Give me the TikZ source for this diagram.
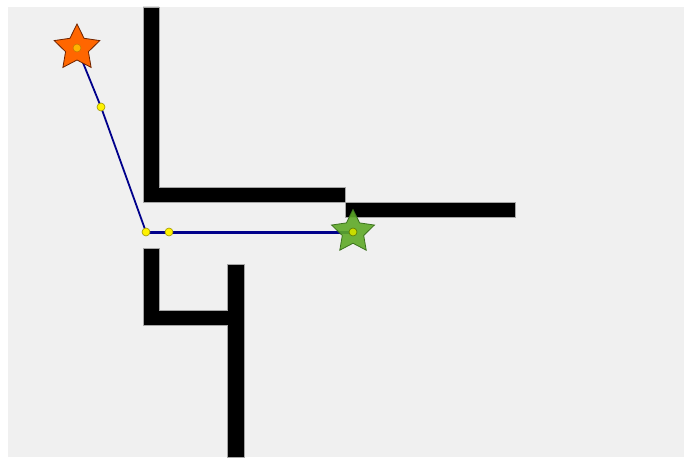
\documentclass[tikz,border=0pt]{standalone}
\usetikzlibrary{shapes.geometric}
\definecolor{floor}{RGB}{240,240,240}
\definecolor{routeblue}{RGB}{0,0,139}
\definecolor{startfill}{RGB}{255,102,0}
\definecolor{startline}{RGB}{110,35,0}
\definecolor{startdot}{RGB}{255,180,0}
\definecolor{startdotline}{RGB}{200,120,0}
\definecolor{goalfill}{RGB}{95,170,40}
\definecolor{goalline}{RGB}{60,115,30}
\definecolor{goaldot}{RGB}{200,220,0}
\definecolor{goaldotline}{RGB}{90,120,0}
\definecolor{dotline}{RGB}{160,150,0}
\begin{document}
\begin{tikzpicture}[x=1pt, y=-1pt,
    wall/.style={fill=black, draw=gray!70, line width=0.6pt},
    route/.style={draw=routeblue, line width=#1},
    startstar/.style={star, star points=5, star point ratio=2.0, minimum size=48pt, inner sep=0pt,
      fill=startfill, draw=startline, line width=0.8pt},
    goalstar/.style={star, star points=5, star point ratio=2.0, minimum size=45pt, inner sep=0pt,
      fill=goalfill, fill opacity=0.9, draw=goalline, line width=0.8pt},
    waypt/.style={circle, inner sep=0pt, minimum size=8pt, fill=yellow, draw=dotline, line width=0.6pt}]
    % Rahmen und Boden
    \useasboundingbox (0,0) rectangle (684,457);
    \fill[floor] (8,7) rectangle (684,457);
    % Waende
    \draw[wall] (143,7) -- (159,7) -- (159,187) -- (345,187) -- (345,202) -- (143,202) -- cycle;
    \draw[wall] (345,202) rectangle (515,217);
    \draw[wall] (143,248) -- (159,248) -- (159,310) -- (227,310) -- (227,264) -- (244,264)
      -- (244,457) -- (227,457) -- (227,325) -- (143,325) -- cycle;
    % Wegpunkte
    \coordinate (p0) at (77,48);
    \coordinate (p1) at (101,107);
    \coordinate (p2) at (146,232);
    \coordinate (p3) at (169,232);
    \coordinate (p4) at (353,232);
    % Route
    \draw[route=1.8pt] (p0) -- (p1) -- (p2);
    \draw[route=3pt] (p2) -- (p3) -- (p4);
    % Start und Ziel
    \node[startstar] (start) at (p0) {};
    \node[goalstar] (goal) at (p4) {};
    \node[waypt, fill=startdot, draw=startdotline] (s) at (start.center) {};
    \node[waypt, fill=goaldot, draw=goaldotline] (g) at (goal.center) {};
    \foreach \p/\n in {p1/w1, p2/w2, p3/w3} \node[waypt] (\n) at (\p) {};
\end{tikzpicture}
\end{document}
